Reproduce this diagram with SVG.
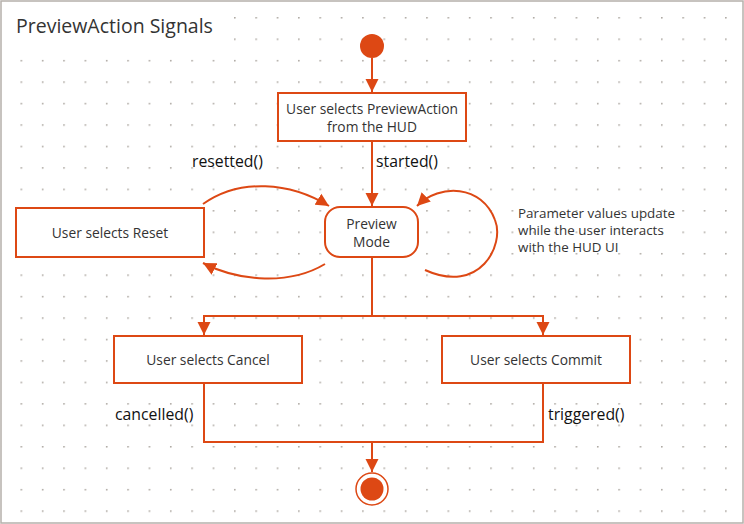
<svg xmlns="http://www.w3.org/2000/svg" width="744" height="524" viewBox="0 0 744 524">
<defs>
<pattern id="dots" x="20.5" y="17" width="21.35" height="21.45" patternUnits="userSpaceOnUse">
<circle cx="0.8" cy="0.8" r="0.9" fill="#aaa49e"/>
</pattern>
<marker id="arr" markerUnits="userSpaceOnUse" markerWidth="14" markerHeight="14" viewBox="0 0 14 14" refX="13" refY="7" orient="auto">
<path d="M0,0.5 L13,7 L0,13.5 Z" fill="#dd4814"/>
</marker>
<style>
.ln{fill:none;stroke:#dd4814;stroke-width:2}
.box{fill:#fff;stroke:#dd4814;stroke-width:2}
.t{font-family:"Open Sans","Noto Sans",sans-serif;font-size:13.8px;fill:#333;text-anchor:middle}
.lb{font-family:"Open Sans","Noto Sans",sans-serif;font-size:15.8px;fill:#111}
.note{font-family:"Open Sans","Noto Sans",sans-serif;font-size:13.4px;fill:#333}
</style>
</defs>
<rect x="0" y="0" width="744" height="524" fill="#fff"/>
<rect x="1" y="1" width="742" height="522" fill="url(#dots)" stroke="#b5b0ab" stroke-width="1.5"/>
<rect x="3" y="3" width="228" height="48" fill="#fff"/>
<text x="16" y="33" font-family="'Open Sans','Noto Sans',sans-serif" font-size="19.5" fill="#333">PreviewAction Signals</text>

<g id="connectors">
<line class="ln" x1="372" y1="58" x2="372" y2="92" marker-end="url(#arr)"/>
<line class="ln" x1="372" y1="141" x2="372" y2="206" marker-end="url(#arr)"/>
<path class="ln" d="M203,204 C240,178 290,182 329,206" marker-end="url(#arr)"/>
<path class="ln" d="M325,264 C290,285 240,282 203,263" marker-end="url(#arr)"/>
<path class="ln" d="M425,270 C480,295 505,245 495,220 C482,185 440,183 417,206" marker-end="url(#arr)"/>
<polyline class="ln" points="372,257 372,316 204,316 204,335" marker-end="url(#arr)"/>
<polyline class="ln" points="372,316 543,316 543,335" marker-end="url(#arr)"/>
<polyline class="ln" points="204,383 204,442 543,442 543,383"/>
<line class="ln" x1="372" y1="442" x2="372" y2="472" marker-end="url(#arr)"/>
<text class="lb" x="192" y="167">resetted()</text>
<text class="lb" x="376" y="167">started()</text>
<text class="lb" x="115" y="420">cancelled()</text>
<text class="lb" x="548" y="420">triggered()</text>
</g>

<g id="start"><circle cx="372" cy="46" r="12" fill="#dd4814"/></g>
<g id="select">
<rect class="box" x="278" y="93" width="188" height="48"/>
<text class="t" x="372" y="114">User selects PreviewAction</text>
<text class="t" x="372" y="132">from the HUD</text>
</g>
<g id="preview">
<rect class="box" x="325" y="207" width="93" height="50" rx="15"/>
<text class="t" x="371.5" y="229">Preview</text>
<text class="t" x="371.5" y="247">Mode</text>
</g>
<g id="reset">
<rect class="box" x="16" y="208" width="188" height="49"/>
<text class="t" x="110" y="238">User selects Reset</text>
</g>
<g id="note">
<text class="note" x="518" y="218">Parameter values update</text>
<text class="note" x="518" y="235">while the user interacts</text>
<text class="note" x="518" y="252">with the HUD UI</text>
</g>
<g id="cancel">
<rect class="box" x="114" y="336" width="188" height="47"/>
<text class="t" x="208" y="365">User selects Cancel</text>
</g>
<g id="commit">
<rect class="box" x="442" y="336" width="188" height="47"/>
<text class="t" x="536" y="365">User selects Commit</text>
</g>
<g id="end">
<circle cx="372" cy="489" r="16" fill="#fff" stroke="#dd4814" stroke-width="1.5"/>
<circle cx="372" cy="489" r="11.5" fill="#dd4814"/>
</g>
</svg>
